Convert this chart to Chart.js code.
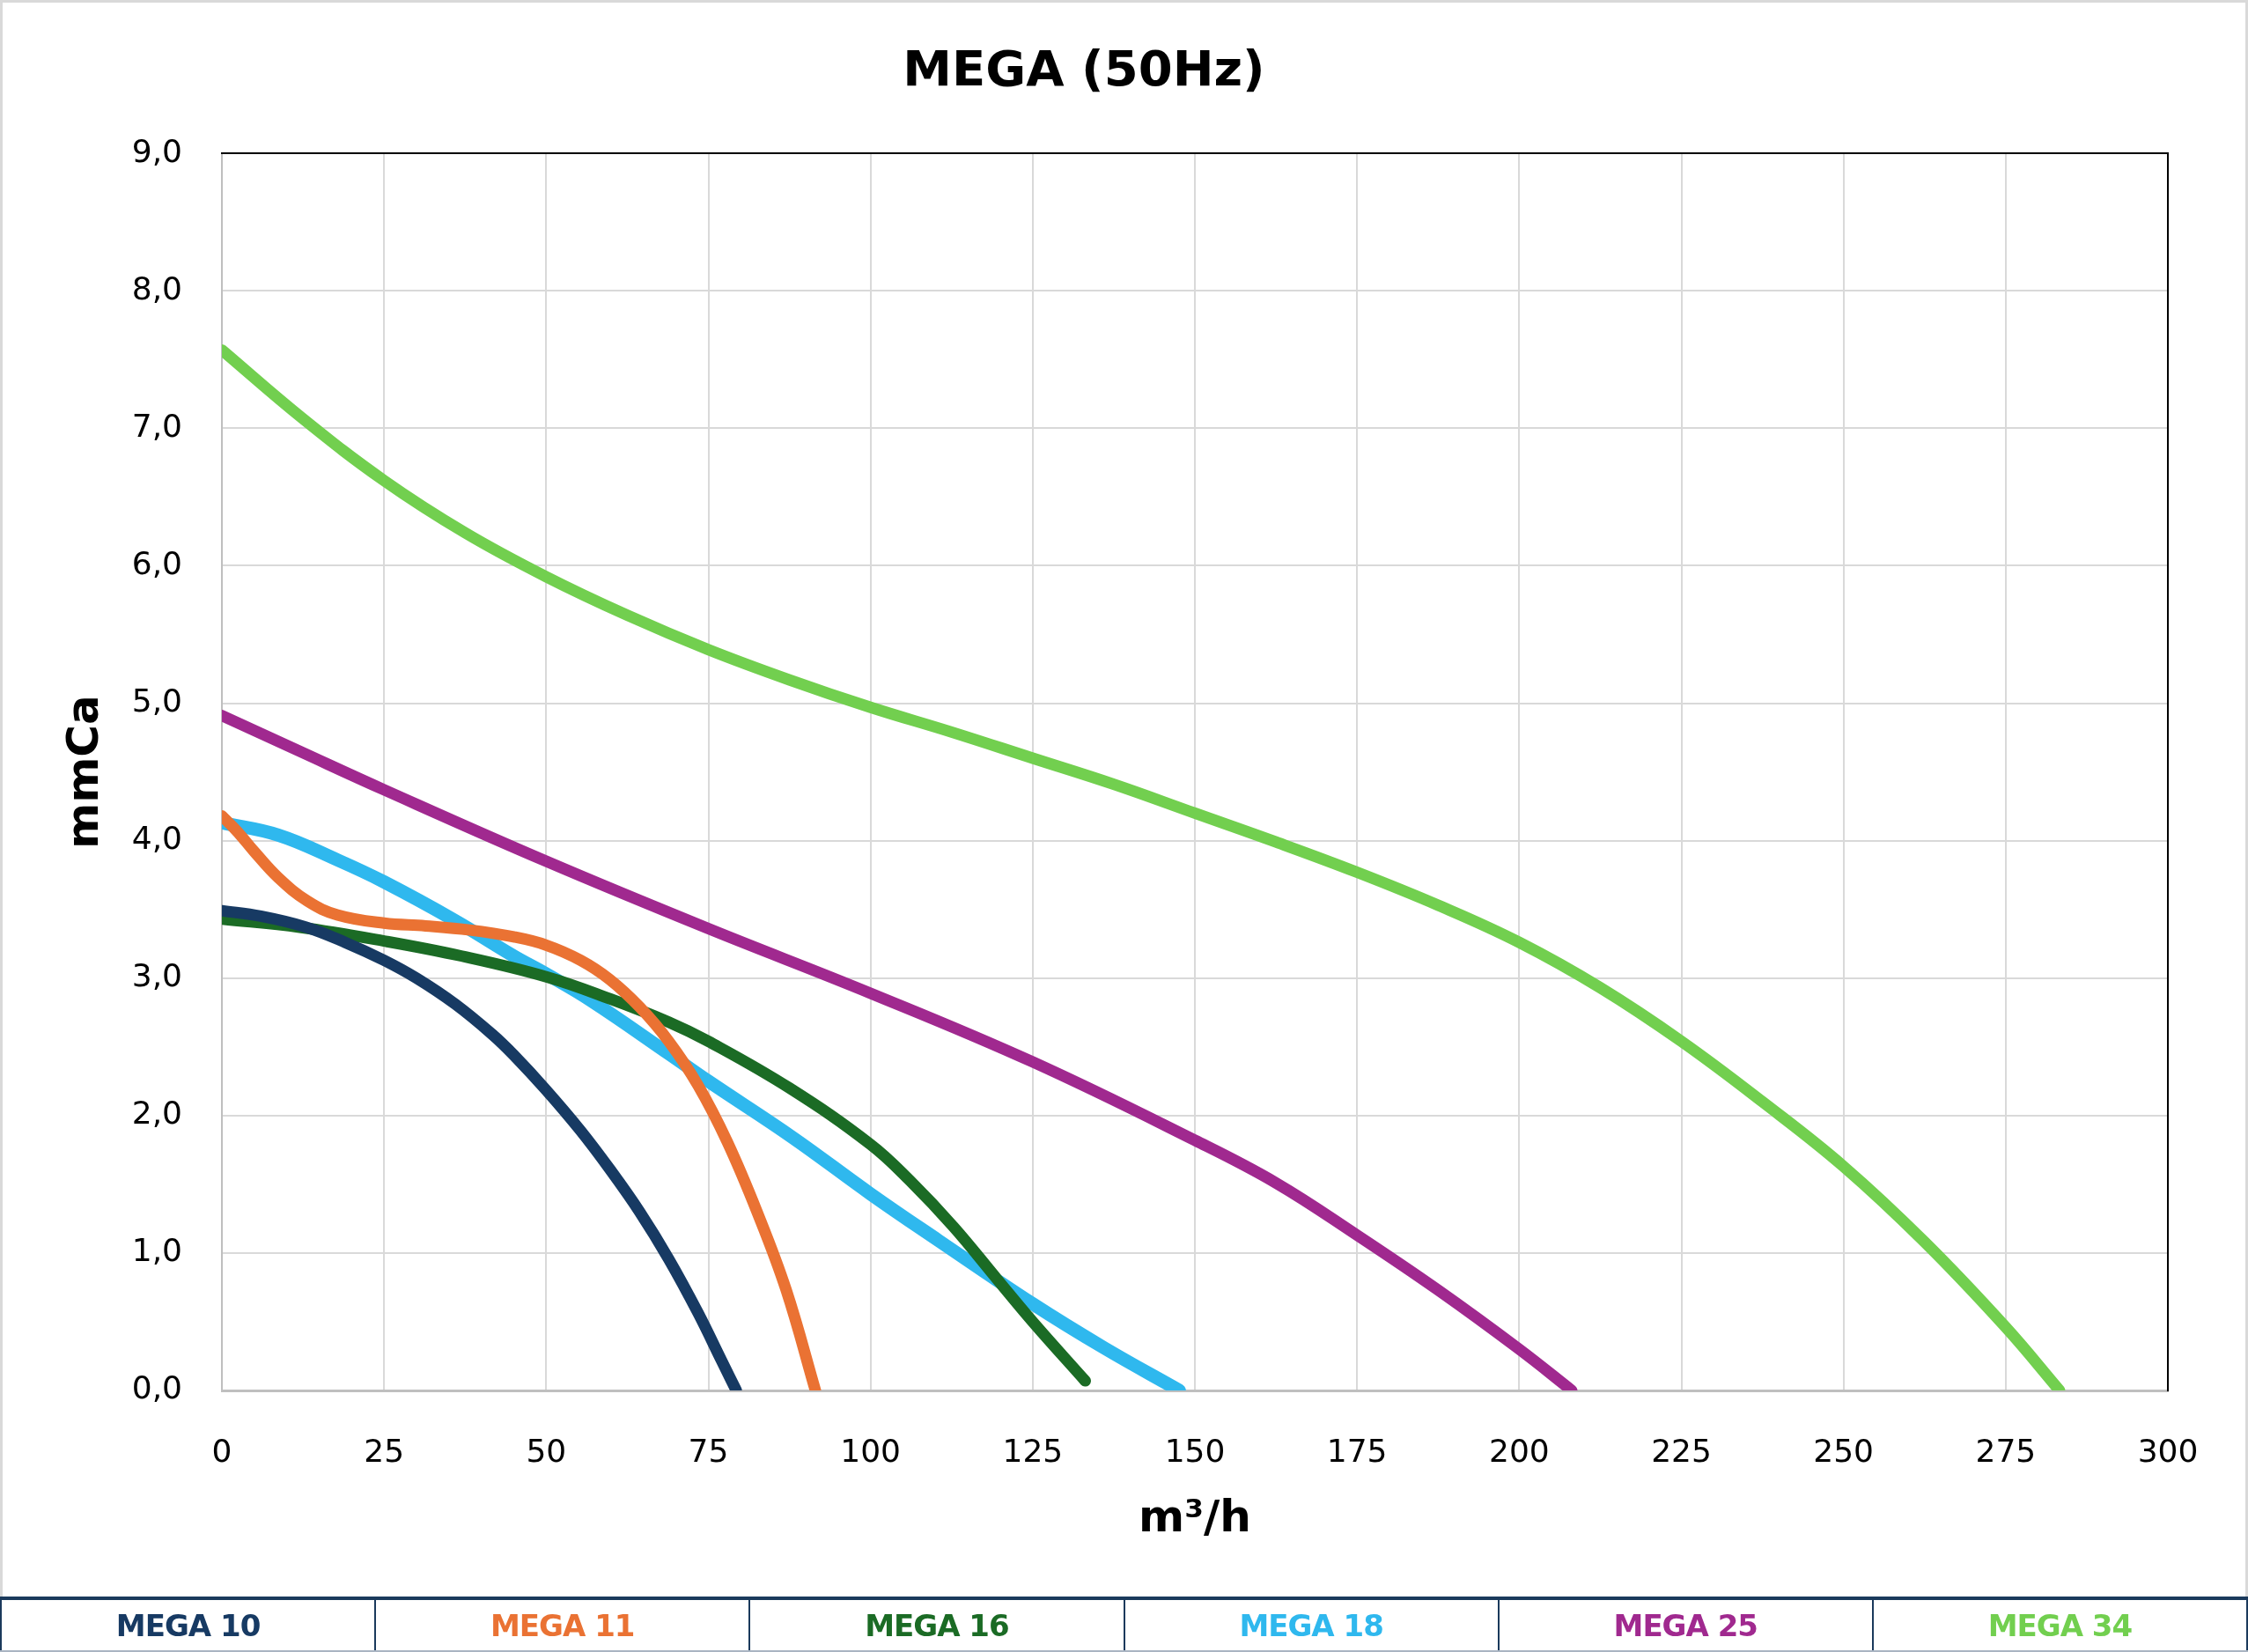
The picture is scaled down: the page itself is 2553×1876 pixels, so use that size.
<!DOCTYPE html>
<html>
<head>
<meta charset="utf-8">
<title>MEGA (50Hz)</title>
<script src="https://cdn.jsdelivr.net/npm/chart.js@4.4.0/dist/chart.umd.min.js"></script>
<style>
  html, body { margin: 0; padding: 0; background: #fff; }
  #frame { position: absolute; left: 0; top: 0; width: 2553px; height: 1812px; }
  #frame canvas { display: block; }
  #edge { position: absolute; left: 0; top: 0; width: 2553px; height: 1813px; box-sizing: border-box;
          border: 3px solid #d9d9d9; border-bottom: none; pointer-events: none; }
  #keys { position: absolute; left: 0; top: 1813px; width: 2553px; height: 63px; box-sizing: border-box;
          border-top: 4px solid #1b3a5c; border-bottom: 2px solid #a9b4c2; display: flex; }
  .key { flex: 1; border-left: 2px solid #1b3a5c; display: flex; align-items: center; justify-content: center;
         font: bold 34px "DejaVu Sans", sans-serif; letter-spacing: -1px; }
  .key:last-child { border-right: 2px solid #1b3a5c; }
</style>
</head>
<body>
<div id="frame"><canvas id="curves" width="2553" height="1812"></canvas></div>
<div id="edge"></div>
<div id="keys"></div>

<script>
// pump curves, flow in m3/h, head in mmCa
const flow10 = [0, 6, 13, 19, 25, 30, 36, 41.7, 45, 50, 55.3, 59.8, 64.4, 68.9, 73.4, 77, 79.3];
const head10 = [3.49, 3.45, 3.37, 3.26, 3.13, 3.00, 2.81, 2.59, 2.44, 2.185, 1.89, 1.61, 1.30, 0.955, 0.565, 0.22, 0.0];

const flow11 = [0, 2.5, 5, 8.7, 13.2, 17.8, 25, 31.4, 38.2, 45, 50, 55.3, 59.8, 64.4, 68.9, 73.4, 77.9, 82.5, 87, 91.5];
const head11 = [4.18, 4.06, 3.92, 3.73, 3.56, 3.46, 3.40, 3.38, 3.35, 3.30, 3.24, 3.13, 2.99, 2.79, 2.54, 2.22, 1.81, 1.30, 0.73, 0.0];

const flow16 = [0, 12, 25, 37, 50, 59.8, 68.9, 75, 87.5, 100, 106, 112.8, 119.5, 125, 133.1];
const head16 = [3.43, 3.37, 3.27, 3.16, 3.01, 2.85, 2.68, 2.54, 2.20, 1.79, 1.53, 1.19, 0.81, 0.50, 0.07];

const flow18 = [0, 8.7, 17.8, 25, 35.9, 45, 50, 56.8, 68.9, 75, 88, 100, 110.5, 125, 136, 147.6];
const head18 = [4.13, 4.04, 3.86, 3.70, 3.42, 3.16, 3.03, 2.84, 2.45, 2.25, 1.84, 1.43, 1.09, 0.63, 0.31, 0.0];

const flow25 = [0, 12, 25, 50, 75, 100, 125, 150, 162.5, 175, 187.5, 200, 208.1];
const head25 = [4.91, 4.65, 4.37, 3.85, 3.36, 2.89, 2.39, 1.82, 1.51, 1.13, 0.73, 0.30, 0.0];

const flow34 = [0, 12.5, 25, 37.5, 50, 62.5, 75, 87.5, 100, 112.5, 125, 137.5, 150, 162.5, 175, 187.5, 200, 212.5, 225, 237.5, 250, 262.5, 275, 283.3];
const head34 = [7.57, 7.07, 6.62, 6.24, 5.92, 5.64, 5.39, 5.17, 4.97, 4.79, 4.60, 4.41, 4.20, 3.99, 3.77, 3.53, 3.26, 2.93, 2.54, 2.10, 1.63, 1.08, 0.46, 0.0];

const seriesNames  = ["MEGA 10", "MEGA 11", "MEGA 16", "MEGA 18", "MEGA 25", "MEGA 34"];
const seriesColors = ["#173a63", "#ea7233", "#1b6b25", "#2fb8ee", "#a0298f", "#72cf4f"];
const seriesFlows  = [flow10, flow11, flow16, flow18, flow25, flow34];
const seriesHeads  = [head10, head11, head16, head18, head25, head34];

const xTicks = [0, 25, 50, 75, 100, 125, 150, 175, 200, 225, 250, 275, 300];
const yTicks = [0, 1, 2, 3, 4, 5, 6, 7, 8, 9];

const FONT = "'DejaVu Sans', sans-serif";

const datasets = seriesNames.map((name, i) => ({
  label: name,
  data: seriesFlows[i].map((f, k) => ({ x: f, y: seriesHeads[i][k] })),
  borderColor: seriesColors[i],
  borderWidth: name === "MEGA 18" ? 15 : 13,
  borderCapStyle: "round",
  borderJoinStyle: "round",
  pointRadius: 0,
  fill: false,
  tension: 0.4,
}));

new Chart(document.getElementById("curves"), {
  type: "line",
  data: { datasets: datasets },
  options: {
    responsive: false,
    animation: false,
    devicePixelRatio: 1,
    layout: { padding: { left: 0, right: 91, top: 0, bottom: 0 } },
    plugins: {
      legend: { display: false },
      tooltip: { enabled: false },
      title: {
        display: true,
        text: "MEGA (50Hz)",
        color: "#000",
        font: { family: FONT, size: 56, weight: "bold", lineHeight: 1.2 },
        padding: { top: 49, bottom: 58 },
      },
    },
    scales: {
      x: {
        type: "linear",
        min: 0, max: 300,
        afterBuildTicks: (s) => { s.ticks = xTicks.map(v => ({ value: v })); },
        afterFit: (s) => { s.height = 233; },
        ticks: {
          autoSkip: false, maxRotation: 0, padding: 50,
          color: "#000", font: { family: FONT, size: 36 },
        },
        grid: { color: "#d9d9d9", lineWidth: 2, drawTicks: false },
        border: { color: "#bfbfbf", width: 3 },
        title: {
          display: true, text: "m³/h", color: "#000",
          font: { family: FONT, size: 50, weight: "bold", lineHeight: 1.2 },
          padding: { top: 0, bottom: 56 },
        },
      },
      y: {
        type: "linear",
        min: 0, max: 9,
        afterBuildTicks: (s) => { s.ticks = yTicks.map(v => ({ value: v })); },
        afterFit: (s) => { s.width = 252; },
        ticks: {
          padding: 45, color: "#000", font: { family: FONT, size: 36 },
          callback: (v) => v.toFixed(1).replace(".", ","),
        },
        grid: { color: "#d9d9d9", lineWidth: 2, drawTicks: false },
        border: { color: "#bfbfbf", width: 2 },
        title: {
          display: true, text: "mmCa", color: "#000",
          font: { family: FONT, size: 50, weight: "bold", lineHeight: 1.2 },
          padding: { top: 68, bottom: 0 },
        },
      },
      xTop: {
        type: "linear", position: "top", min: 0, max: 300,
        ticks: { display: false }, grid: { display: false, drawTicks: false },
        border: { color: "#000", width: 2 },
        afterFit: (s) => { s.height = 0; },
      },
      yRight: {
        type: "linear", position: "right", min: 0, max: 9,
        ticks: { display: false }, grid: { display: false, drawTicks: false },
        border: { color: "#000", width: 2 },
        afterFit: (s) => { s.width = 0; },
      },
    },
  },
});

// key strip under the chart
const keys = document.getElementById("keys");
seriesNames.forEach((name, i) => {
  const cell = document.createElement("div");
  cell.className = "key";
  cell.style.color = seriesColors[i];
  cell.textContent = name;
  keys.appendChild(cell);
});
</script>
</body>
</html>
